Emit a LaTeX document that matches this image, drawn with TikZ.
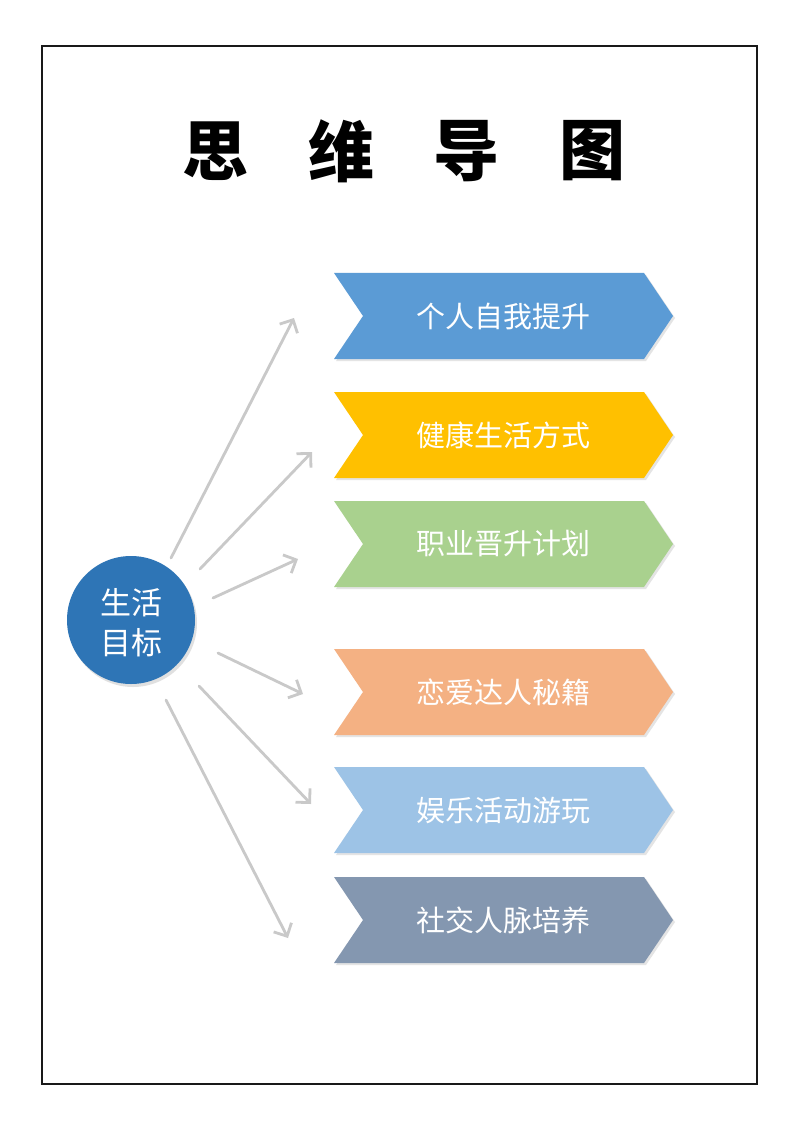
\documentclass[tikz,border=0pt]{standalone}
\usepackage{fontspec}
\newfontfamily\cjk{Noto Sans CJK SC}
\usetikzlibrary{arrows.meta}
\definecolor{c1}{HTML}{5B9BD5}
\definecolor{c2}{HTML}{FFC000}
\definecolor{c3}{HTML}{A9D18E}
\definecolor{c4}{HTML}{F4B183}
\definecolor{c5}{HTML}{9DC3E6}
\definecolor{c6}{HTML}{8497B0}
\definecolor{hub}{HTML}{2E75B6}
\definecolor{arr}{HTML}{C9C9C9}
\tikzset{
  lbl/.style={text=white, font=\cjk\fontsize{29}{32}\selectfont, inner sep=0pt},
  title/.style={font=\cjk\bfseries\fontsize{66}{70}\selectfont, inner sep=0pt},
  link/.style={draw=arr, line width=2.8pt, line cap=round, -{Straight Barb[length=10pt,width=20pt,line width=2.8pt]}},
  shade/.style={fill=black!30, opacity=0.35},
}
\newcommand{\chev}[3]{%
  \fill[shade] (336,#1-41) -- (646,#1-41) -- (675,#1+2) -- (646,#1+45) -- (336,#1+45) -- (365,#1+2) -- cycle;
  \fill[#2] (334,#1-43) -- (644,#1-43) -- (673,#1) -- (644,#1+43) -- (334,#1+43) -- (363,#1) -- cycle;
  \node[lbl] (#3) at (503,#1) {#3};
}
\begin{document}
\begin{tikzpicture}[x=1pt,y=-1pt]
\useasboundingbox (0,0) rectangle (800,1131);
\fill[white] (0,0) rectangle (800,1131);
\draw[line width=2.8pt, black!90] (42,46) rectangle (757,1084);
% title
\node[title] (t1) at (215,151) {思};
\node[title] (t2) at (341,151) {维};
\node[title] (t3) at (466,151) {导};
\node[title] (t4) at (592,151) {图};
% chevrons
\chev{316}{c1}{个人自我提升}
\chev{435}{c2}{健康生活方式}
\chev{544}{c3}{职业晋升计划}
\chev{692}{c4}{恋爱达人秘籍}
\chev{810}{c5}{娱乐活动游玩}
\chev{920}{c6}{社交人脉培养}
% hub
\fill[black!30, opacity=0.4] (133,623) circle (64);
\node[circle, fill=hub, minimum size=128pt, inner sep=0pt] (hub) at (131,620) {};
\node[lbl, font=\cjk\fontsize{31}{40}\selectfont, align=center] (hubtext) at (131,623) {生活\\目标};
% arrows
\coordinate (s1) at (171,558); \coordinate (e1) at (294,318);
\coordinate (s2) at (200,569); \coordinate (e2) at (312,452);
\coordinate (s3) at (213,598); \coordinate (e3) at (298,559);
\coordinate (s4) at (218,653); \coordinate (e4) at (303,694);
\coordinate (s5) at (199,686); \coordinate (e5) at (311,804);
\coordinate (s6) at (166,700); \coordinate (e6) at (288,938);
\foreach \i in {1,...,6} \draw[link] (s\i) -- (e\i);
\end{tikzpicture}
\end{document}
